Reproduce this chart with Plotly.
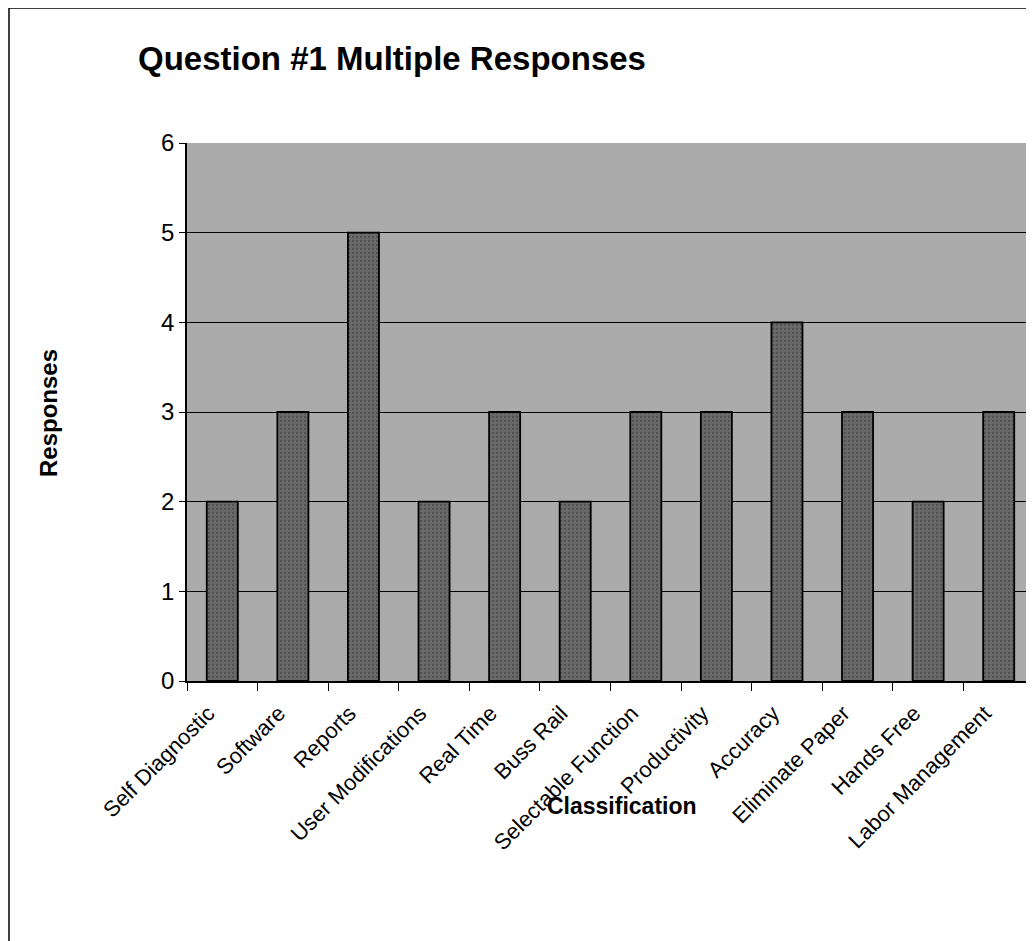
import plotly.graph_objects as go

categories = ["Self Diagnostic", "Software", "Reports", "User Modifications", "Real Time",
              "Buss Rail", "Selectable Function", "Productivity", "Accuracy",
              "Eliminate Paper", "Hands Free", "Labor Management"]
responses = [2, 3, 5, 2, 3, 2, 3, 3, 4, 3, 2, 3]
y_ticks = [0, 1, 2, 3, 4, 5, 6]

# page body adds an 8px offset; work in screen coordinates and convert
OFF = 8
W, H = 1034 - OFF, 941 - OFF
PL, PR, PT, PB = 187, 1034, 143, 681          # plot area in screen px
L, R, T, B = PL - OFF, (W + OFF) - PR, PT - OFF, (H + OFF) - PB
PW, PH = PR - PL, PB - PT


def px(xs):
    return (xs - PL) / PW


def py(ys):
    return (PB - ys) / PH


FONT = "Liberation Sans, Arial, sans-serif"

fig = go.Figure()
fig.add_trace(go.Bar(
    x=categories, y=responses,
    marker=dict(color="#6a6a6a", line=dict(color="black", width=1.8),
                pattern=dict(shape=".", fgcolor="#333333", size=4, solidity=0.25)),
    width=0.44,
))

fig.update_layout(
    width=W, height=H,
    margin=dict(l=L, r=R, t=T, b=B),
    paper_bgcolor="white",
    plot_bgcolor="#ababab",
    showlegend=False,
    font=dict(family=FONT, color="black", size=24),
    xaxis=dict(
        type="category", tickangle=-45, ticks="outside", ticklen=8, tickcolor="black",
        tickson="boundaries", showgrid=False, showline=True, linecolor="black", linewidth=1.5,
        tickfont=dict(size=22, family=FONT), range=[-0.5, 11.5],
        ticklabelstandoff=9, ticklabelshift=-14,
    ),
    yaxis=dict(
        range=[0, 6], tickvals=y_ticks, ticks="outside", ticklen=6, tickcolor="black",
        showgrid=True, gridcolor="black", gridwidth=1, showline=True, linecolor="black",
        linewidth=1.5, tickfont=dict(size=24, family=FONT), zeroline=False,
    ),
    annotations=[
        dict(text="<b>Question #1 Multiple Responses</b>", xref="paper", yref="paper",
             x=px(392), y=py(58), xanchor="center", yanchor="middle", showarrow=False,
             font=dict(size=33, family=FONT)),
        dict(text="<b>Responses</b>", xref="paper", yref="paper",
             x=px(48), y=py(413), xanchor="center", yanchor="middle", showarrow=False,
             textangle=-90, font=dict(size=24, family=FONT)),
        dict(text="<b>Classification</b>", xref="paper", yref="paper",
             x=px(622), y=py(806), xanchor="center", yanchor="middle", showarrow=False,
             font=dict(size=23, family=FONT)),
    ],
    shapes=[
        dict(type="line", xref="paper", yref="paper",
             x0=px(9), x1=px(1040), y0=py(8), y1=py(8),
             line=dict(color="black", width=1.5)),
        dict(type="line", xref="paper", yref="paper",
             x0=px(9), x1=px(9), y0=py(8), y1=py(945),
             line=dict(color="black", width=1.5)),
    ],
)

fig.write_html("out.html")
